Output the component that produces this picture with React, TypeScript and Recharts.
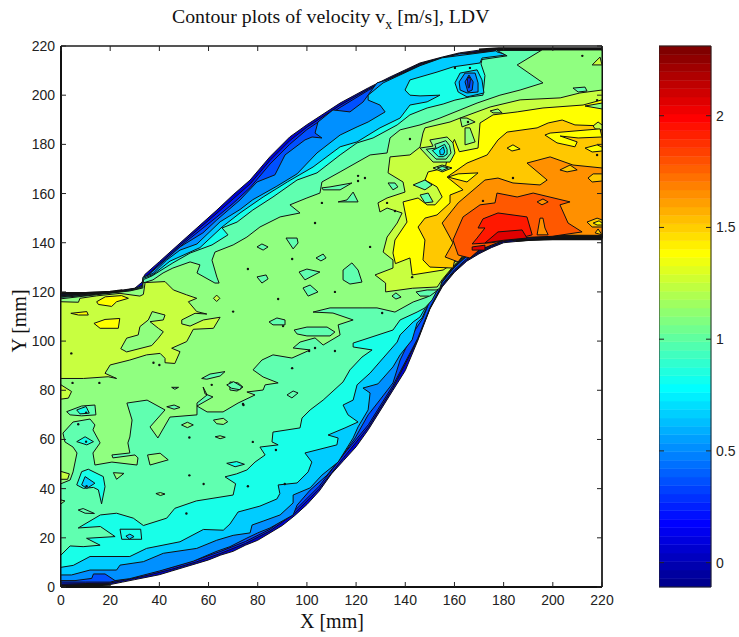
import React from 'react';
import { ScatterChart, Scatter, XAxis, YAxis, ReferenceLine, ReferenceArea } from 'recharts';

type Pt = [number, number];

const xTicks = [0, 20, 40, 60, 80, 100, 120, 140, 160, 180, 200, 220];
const yTicks = [0, 20, 40, 60, 80, 100, 120, 140, 160, 180, 200, 220];
const barTicks = [0, 0.5, 1, 1.5, 2];

// jet colormap steps of the colorbar
const barColors = [
  '#00008f', '#00009f', '#0000af', '#0000bf', '#0000cf', '#0000df', '#0000ef', '#0000ff',
  '#0010ff', '#0020ff', '#0030ff', '#0040ff', '#0050ff', '#0060ff', '#0070ff', '#0080ff',
  '#008fff', '#009fff', '#00afff', '#00bfff', '#00cfff', '#00dfff', '#00efff', '#00ffff',
  '#10ffef', '#20ffdf', '#30ffcf', '#40ffbf', '#50ffaf', '#60ff9f', '#70ff8f', '#80ff80',
  '#8fff70', '#9fff60', '#afff50', '#bfff40', '#cfff30', '#dfff20', '#efff10', '#ffff00',
  '#ffef00', '#ffdf00', '#ffcf00', '#ffbf00', '#ffaf00', '#ff9f00', '#ff8f00', '#ff8000',
  '#ff7000', '#ff6000', '#ff5000', '#ff4000', '#ff3000', '#ff2000', '#ff1000', '#ff0000',
  '#ef0000', '#df0000', '#cf0000', '#bf0000', '#af0000', '#9f0000', '#8f0000', '#800000',
];
const barEdges = [
  -0.109, -0.071, -0.033, 0.005, 0.043, 0.08, 0.118, 0.156, 0.194, 0.232, 0.269, 0.307, 0.345,
  0.383, 0.421, 0.458, 0.496, 0.534, 0.572, 0.61, 0.647, 0.685, 0.723, 0.761, 0.799, 0.836,
  0.874, 0.912, 0.95, 0.988, 1.025, 1.063, 1.101, 1.139, 1.177, 1.214, 1.252, 1.29, 1.328,
  1.366, 1.403, 1.441, 1.479, 1.517, 1.555, 1.592, 1.63, 1.668, 1.706, 1.744, 1.781, 1.819,
  1.857, 1.895, 1.933, 1.97, 2.008, 2.046, 2.084, 2.122, 2.159, 2.197, 2.235, 2.273, 2.312,
];
const barRange = [
  { x: 0, y: -0.109 },
  { x: 1, y: 2.312 },
];

// duct outline, mm
const wall: Pt[] = [
  [0, 0.5], [10, 0.7], [20, 1], [25, 2], [30, 3], [35, 4], [40, 5], [45, 6.5], [50, 8], [55, 9.5], [60, 11], [65, 13], [70, 14.5],
  [75, 17], [80, 19], [85, 22], [90, 25], [95, 29], [100, 33.5], [105, 39], [110, 46], [115, 51.5], [120, 57], [125, 64], [130, 72],
  [135, 80], [140, 88], [145, 100], [150, 113], [155, 122], [160, 128], [165, 132.5], [170, 135.5], [175, 138], [180, 140], [185, 140.5],
  [190, 141], [200, 141.5], [220, 141.5], [220, 219], [178, 219], [170, 218.3], [162, 217.2], [155, 215.5], [146, 213.1], [133.8, 207.4],
  [125, 203], [113.5, 196.8], [100, 188], [93, 183], [85, 175], [76.9, 165.5], [70, 159.5], [63.4, 153.3], [50, 141.3], [40, 132.3],
  [34, 127], [33, 124], [30, 121.5], [20, 120], [0, 119.5],
];
const wallInletTop: Pt[] = [[0, 119.5], [10, 119.5], [20, 120], [25, 120.6]];
const wallOutletTop: Pt[] = [[170, 218.5], [178, 219], [220, 219]];
const wallOutletBottom: Pt[] = [[185, 140.8], [190, 141.2], [200, 141.5], [220, 141.5]];
const wallInletBottom: Pt[] = [[0, 0.5], [10, 0.7], [20, 1]];

// main contour levels, lowest first
const level0: Pt[] = [
  [0, 1.2], [20, 1.6], [25, 2.6], [35, 4.7], [45, 7.2], [55, 10.2], [65, 13.7], [75, 17.7], [85, 22.8], [95, 30], [105, 40], [115, 52.7],
  [125, 65], [135, 81], [145, 100.5], [150, 113.2], [155, 122.5], [160, 128.5], [165, 133], [170, 136], [175, 138.5], [180, 140.5], [190, 141.5],
  [220, 142], [220, 218.6], [178, 218.6], [162, 216.9], [155, 215.2], [146, 212.8], [134, 207], [125, 202.5], [113.5, 195.9], [100, 187],
  [93, 181.5], [85, 173.5], [77, 164], [70, 157.8], [63.4, 152], [50, 140.5], [40, 131.4], [34, 125.7], [33, 122], [20, 119.6], [0, 119.1],
];
const level1: Pt[] = [
  [0, 2], [10, 2], [20, 2], [25, 3.2], [35, 5.5], [45, 8], [55, 11], [65, 14.5], [75, 18.5], [85, 23.5], [95, 31], [105, 41], [115, 54],
  [125, 66], [135, 82], [145, 101], [150, 113.5], [155, 123], [160, 129], [165, 133.5], [170, 136.5], [175, 139], [180, 141], [190, 142],
  [220, 142.1], [220, 218.3], [180, 218.3], [170, 217.6], [162, 216.6], [155, 215], [146, 212.5], [134, 206.5], [125, 202], [113.5, 195],
  [100, 186], [93, 180], [85, 172], [77, 162.5], [70, 156], [63.4, 150.5], [50, 139.8], [40, 130.5], [34, 124.5], [33, 120.5], [20, 119.2], [0, 118.8],
];
const level2: Pt[] = [
  [0, 2.6], [5.7, 2.6], [12.5, 3.5], [13.2, 5.3], [17.9, 5.3], [22, 2.6], [28, 3.4], [40, 6.5], [53.8, 10.5], [63, 14.4], [68.7, 16.4],
  [75.6, 19.9], [80, 22], [85, 24], [94.4, 29.3], [96, 33.3], [101.3, 39.4], [108.2, 45.5], [114.7, 53.7], [119.6, 60.6], [124.9, 70],
  [129, 75.2], [135, 83], [137.9, 92.3], [143.2, 103.3], [147.2, 109.4], [150, 116.5], [155, 124], [160, 130], [165, 134.5], [170, 137.5],
  [175, 140], [180, 142], [190, 142.3], [220, 142.2], [220, 218], [178, 218], [170, 217.2], [162, 216.8], [155, 215], [146, 212], [132.6, 206.2],
  [128.5, 205], [122.8, 197.2], [117.5, 193.2], [110.6, 194], [104.5, 189.1], [103.3, 184.6], [106.1, 182.6], [102.1, 183], [99.2, 181.8],
  [91.1, 175.7], [87, 167.6], [79.7, 164.7], [72.8, 157.4], [63.4, 149.3], [57.7, 144], [48.4, 138.3], [41.5, 132.2], [34.2, 125.7], [33.3, 122],
  [28, 120.8], [15, 118.8], [0, 118.5],
];
const level3: Pt[] = [
  [0, 4.9], [4.3, 4.9], [11.8, 6.9], [22.6, 6.9], [24, 8.9], [33.5, 10.3], [41.6, 13.7], [55.2, 15.7], [63.3, 19], [70, 21], [76.9, 22],
  [77.7, 25.2], [82.2, 26.8], [89.1, 29.3], [94.4, 34.2], [94.4, 37.4], [101.3, 40.3], [106.1, 45.5], [112.7, 50.8], [118.8, 60.6], [120.8, 65.1],
  [124.9, 72], [125.7, 78.9], [122.8, 80.9], [128.9, 82.6], [135, 89.5], [137.9, 94.4], [142.8, 100.5], [144.8, 107.4], [146.8, 109.4],
  [150, 116.5], [155, 124.2], [160, 130.2], [165, 134.8], [170, 137.7], [175, 140.2], [180, 142.1], [190, 142.4], [220, 142.3], [220, 218.2],
  [178, 218.2], [155, 215.2], [146, 212], [131, 205], [124.9, 200], [124.9, 198], [129.7, 196], [131.8, 193.2], [124.9, 189.1], [120.4, 187.1],
  [113.5, 183.8], [104.1, 176.5], [96, 168], [87.8, 163], [78, 157.5], [72.8, 153.5], [64.7, 148.5], [55.3, 139.5], [48.4, 137], [43, 133],
  [37.4, 127.5], [33.3, 126], [33.3, 122.8], [28, 120.4], [0, 118.2],
];
const level4: Pt[] = [
  [0, 8], [5, 8.8], [11.8, 12.4], [28, 12.4], [34.8, 15.7], [48.4, 18.4], [57.9, 23.4], [66, 23.1], [68.7, 25.6], [72, 30.5], [80.9, 32.9],
  [87.8, 35.8], [89, 38], [88.3, 41.5], [96, 42.3], [100.5, 46.8], [102, 50.8], [99.2, 54.5], [112.2, 57.8], [112.7, 60.6], [108.6, 61.8],
  [115.5, 64.7], [120.8, 67.1], [116.7, 70], [114.7, 74], [118.8, 76], [120.4, 82.2], [125.7, 87], [131, 93.1], [136.7, 99.6], [137.9, 102.5],
  [143.2, 107.8], [146, 109.8], [150, 116.6], [155, 124.3], [160, 130.3], [165, 135], [170, 137.8], [175, 140.3], [180, 142.2], [190, 142.5],
  [220, 142.4], [220, 218.4], [176.5, 218.4], [177.3, 217.6], [181.4, 216.4], [171.2, 215.1], [170.4, 213.1], [159.4, 211.5], [152.9, 209.4],
  [141.9, 206.2], [139.9, 202.1], [141.9, 200], [146, 199.7], [154.1, 200], [148.9, 197.3], [141.9, 196], [137.9, 190.7], [129.7, 186.7],
  [120.4, 181], [113.5, 179], [102.5, 170.8], [92, 164.7], [82.2, 158.6], [72.8, 152.1], [65.5, 146.4], [56.5, 138], [44.3, 132.5], [37.4, 127],
  [33.3, 125.5], [33.3, 122.5], [28, 120], [0, 118],
];
const level5: Pt[] = [
  [0, 13], [3.7, 16.7], [9, 16.4], [15.9, 17], [10.4, 19.8], [22, 20.5], [16, 24.6], [7, 24], [16, 29.3], [22.6, 30], [29.4, 28], [33.5, 25],
  [43, 28], [46.3, 32], [55, 35], [70, 37.4], [71, 42], [66.7, 44.8], [71.4, 46], [75.6, 47.6], [78.9, 50.8], [83, 53.7], [80.9, 56.9], [88.3, 57.8],
  [85.8, 59], [86.2, 63], [97.2, 64.7], [98, 68.7], [101.3, 72], [106.6, 76], [114.7, 83.4], [117.5, 88.3], [122.4, 93.5], [126.5, 96.4],
  [118.8, 97.6], [118.8, 99.2], [122.8, 100.5], [135, 104.5], [137.9, 108.6], [144.8, 111.8], [148, 113.5], [150.9, 116.7], [155, 124.5],
  [160, 130.5], [165, 135], [170, 138], [175, 140.5], [180, 142.3], [190, 142.6], [220, 142.5], [220, 218.2], [177.3, 218.2], [181.4, 216],
  [171.2, 214.5], [170.8, 212.7], [172.4, 208], [171.6, 200], [166.3, 199.3], [160.2, 198], [155.4, 196.4], [148.9, 194.8], [141.9, 192],
  [136.7, 187.9], [126.9, 182.6], [120.4, 180.6], [113.5, 175.7], [104.1, 168.4], [96, 165.5], [86.2, 158.6], [78, 153.3], [71.6, 148.4],
  [65.5, 146], [67.9, 143.2], [61.4, 139.1], [52.5, 135.8], [45.5, 131.8], [37, 126.5], [33.5, 125], [33.5, 122.2], [28, 119.8], [0, 117.8],
];
const level6: Pt[] = [
  [0, 42], [3.7, 43.5], [4.9, 46.8], [6.5, 54.5], [4.9, 56.9], [1.6, 59], [0.8, 62.6], [4.9, 67.1], [11.8, 68.3], [13.8, 65.9], [13, 63.9],
  [15.9, 58.6], [13, 54.5], [13.8, 49.6], [20.7, 50.8], [30.9, 49.6], [31.3, 52.5], [30.1, 53.7], [21.1, 52.5], [20.7, 53.7], [28, 54.5],
  [27.2, 58.6], [28, 61], [28.9, 67.9], [26.8, 74.8], [35, 76], [42.3, 72], [36.2, 65.1], [39.4, 60.6], [44.3, 69.1], [55.3, 70], [55.3, 74.8],
  [59.4, 78.1], [57.8, 81.3], [58.6, 78.5], [61.8, 77.3], [55.3, 73.6], [59.4, 71.2], [65.9, 71.2], [72, 74.8], [78.9, 78.1], [75.6, 79.3],
  [82.2, 80.1], [83, 82.2], [88.3, 83], [82.2, 85.4], [78.1, 88.3], [81.7, 92.3], [86.2, 94.4], [93.9, 93.1], [101.3, 96.4], [94.4, 97.2],
  [97.2, 99.6], [103.3, 101.3], [106.6, 98.4], [113.5, 102.5], [112.7, 106.6], [118.8, 108.6], [110.6, 111.4], [102.5, 111.8], [109.4, 113.5],
  [122.8, 113.5], [128.5, 113.5], [135.8, 111.8], [143.2, 115.9], [148.9, 117.9], [154.1, 121.6], [155, 124.6], [160, 130.7], [165, 135.3],
  [170, 138.2], [175, 140.7], [180, 142.5], [190, 142.7], [220, 142.6], [220, 218.4], [195.6, 218.4], [185.5, 212.3], [196, 205], [186.7, 202.1],
  [178.5, 200], [169.2, 196.8], [162.3, 194], [154.1, 190.7], [146, 187.9], [137.9, 185.9], [133.8, 182.6], [132.6, 176.5], [125.7, 175.7],
  [113.5, 168.8], [106.1, 164.7], [105.3, 160.2], [100, 158.2], [93.1, 155.4], [97.2, 152.1], [89.1, 150.5], [80.9, 146.4], [75.6, 142.3],
  [70, 139.1], [62.6, 136.2], [61.4, 132.9], [63.4, 126], [64.3, 123.6], [62.6, 123.6], [55.3, 127.7], [56.5, 131], [52.5, 132.2], [45.5, 129.7],
  [41.5, 127.7], [37.4, 124.9], [33.3, 123.6], [33.3, 121.6], [28, 120.4], [0, 117.2],
];
const level7Left: Pt[] = [
  [0, 116], [7.1, 115.8], [7.7, 117.4], [14.5, 118.4], [24, 119.4], [32.1, 118.3], [33.5, 119], [34.2, 123.8], [42.3, 124.2], [45.7, 120.8],
  [51.1, 118.8], [55.2, 117.4], [51.8, 116], [55.2, 112], [59.3, 111], [54.5, 111.3], [49.1, 108.6], [49.1, 107], [52.5, 106.1], [57.9, 108.6],
  [64.7, 109.7], [62, 105.2], [53.8, 104.8], [51.1, 99.8], [45, 97.1], [48.4, 95.7], [46.3, 90.9], [42.3, 91.2], [42.3, 93], [40.3, 95], [34.8, 94.4],
  [28, 92.3], [20, 90.3], [17.9, 86.9], [22.6, 84.8], [19.2, 85.5], [9.1, 84.8], [0, 84.8],
];
const level7: Pt[] = [
  [153, 122], [143, 121.5], [132, 120], [132, 123.6], [127.7, 126.9], [135, 129.7], [135, 133], [131, 136.2], [132.6, 142.3], [136.7, 148],
  [138.7, 152.1], [132.6, 154.1], [129.7, 152.5], [128.9, 156.2], [132.6, 158.2], [139.9, 160.6], [139.1, 164.7], [133, 168.4], [133.8, 174.9],
  [141.9, 175.7], [146, 178.9], [147.2, 184.6], [148, 186.7], [158.2, 189.1], [162.3, 190.7], [174.5, 195.2], [186.7, 198.1], [203, 198.9],
  [211, 200.9], [220, 202.1], [220, 142.7], [190, 142.8], [180, 142.6], [175, 141], [170, 138.5], [165, 135.5], [160, 131], [155, 125],
];
const level8: Pt[] = [
  [155.4, 128.9], [142.8, 126.9], [141.9, 133.8], [136, 131.5], [135, 135.8], [135.8, 141.1], [140.7, 148.4], [139.1, 156.6], [145.2, 158.2],
  [148.9, 155.4], [152.1, 155.4], [155, 158.6], [152.9, 162.7], [148, 165.5], [149.3, 168.8], [156.2, 170.4], [158, 178], [160, 182], [162, 177],
  [169.6, 178.5], [170.4, 188.7], [175.7, 192], [185.5, 193.2], [196, 194.8], [212.3, 196], [220, 198.1], [220, 142.8], [190, 142.9], [180, 142.7],
  [175, 141.5], [170, 139], [165, 136], [160, 132],
];
const level9: Pt[] = [
  [159.4, 129.7], [150, 130.1], [147.2, 133], [148, 141.1], [145.2, 146.4], [148, 150], [152.9, 151.3], [158.2, 156.2], [158.2, 159.4], [163.5, 161.5],
  [157, 166.7], [165.1, 172.4], [173.3, 175.7], [177.7, 181.8], [181.4, 185], [193.6, 186.7], [198.1, 188.7], [203.8, 189.9], [209, 187.9],
  [220, 187.5], [220, 142.9], [190, 143], [180, 142.8], [175, 142], [170, 139.5], [165, 136.5], [160, 132.5],
];
const level10: Pt[] = [
  [161.5, 132.2], [156.2, 134.2], [159.4, 139.9], [155, 148], [161.5, 156.2], [172.4, 165.5], [177.7, 166.3], [183.8, 164.3], [194.8, 163.5],
  [197.7, 165.5], [189.5, 172.4], [198.9, 174.9], [208.2, 171.6], [220, 170.4], [220, 143], [190, 143.1], [180, 142.9], [175, 142.2], [170, 140], [165, 137],
];
const level11: Pt[] = [
  [166.3, 133.8], [161.5, 135], [159.4, 141.1], [163.5, 150.5], [170.4, 155.4], [176.5, 156.2], [177.3, 160.2], [185.5, 158.6], [192, 160.2],
  [207, 156.6], [202.9, 155.4], [206.2, 148], [211.9, 144.4], [199.7, 142.6], [190, 142.2], [180, 141], [175, 139], [170, 137],
];
const level12: Pt[] = [
  [167.2, 139.5], [169.2, 141.9], [172.4, 146], [169.6, 146], [171.6, 149.7], [177.7, 152.1], [189.5, 150.5], [191.6, 143.2], [185, 141.5], [175, 140],
];
const level13: Pt[] = [[172.4, 139.9], [177.7, 144.4], [187.5, 145.2], [189.5, 141.9], [180, 141]];
const level13Small: Pt[] = [[167.2, 138.3], [172.4, 139], [172.4, 137], [167.2, 137]];

// closed islands, grouped by fill band
const aquaIslands: Pt[][] = [
  [[79.7, 138.3], [81.7, 139.5], [84.2, 138.3], [82.2, 137]],
  [[91.5, 141.9], [96, 141.9], [96.4, 139.9], [94.4, 137.5]],
  [[103.7, 133.8], [106.6, 135.4], [107.8, 133.8], [105.7, 132.6]],
  [[79.7, 126.1], [83.4, 126.9], [84.2, 125.3], [81.7, 123.6]],
  [[96.8, 128.1], [100, 129.3], [105.3, 128.1], [99.2, 124.9]],
  [[98.4, 121.6], [101.3, 122.8], [104.5, 120], [100.5, 118.3]],
  [[114.7, 128.9], [118.3, 131.8], [120.8, 128.9], [122.4, 124], [117.5, 123.2], [114.7, 124.9]],
  [[84.6, 107.8], [87.8, 109.4], [91.1, 108.6], [91.1, 106.6], [86.2, 106.6]],
  [[94.8, 104.5], [100, 105.7], [108.2, 105.7], [111.4, 103.7], [109.4, 102.1], [100, 102.1], [96, 102.9]],
  [[134.6, 118.3], [136.2, 119.6], [138.3, 117.9], [136.2, 117.1]],
  [[144.4, 120], [148.9, 120.8], [153.3, 120.8], [150, 118.3], [146, 118.3]],
  [[91.9, 78.1], [94.4, 79.7], [96.4, 78.9], [93.9, 76.9]],
  [[68.7, 83.4], [72, 83], [74, 81.3], [71.6, 79.7], [68.7, 80.1]],
  [[57.2, 84.8], [60.6, 86.6], [66.7, 87.6], [64.7, 85.8], [59.3, 84.5]],
  [[67.4, 82.2], [70.2, 83.5], [73.5, 81.5], [72.8, 80.2], [69.4, 80.8]],
  [[43, 73.3], [46, 74], [48.4, 73], [46, 72.3]],
  [[2.3, 71.3], [8.4, 73.6], [13.8, 74], [14.2, 70], [8.4, 69.6], [3.7, 70]],
  [[45, 81.2], [47.8, 81.2], [46.3, 80.4]],
  [[116.3, 157.4], [118.8, 160.6], [120.8, 156.6], [112.7, 156.6]],
  [[106.1, 162.3], [109.4, 162.7], [118.3, 164.3], [113.5, 161.5], [106.6, 161.5]],
  [[133, 164.3], [135.8, 164.3], [137, 162.7], [135, 161.5]],
  [[143.2, 163.5], [148, 165.5], [150.9, 163.5], [148, 161.5]],
  [[146, 159.4], [149.3, 160.2], [151.3, 156.6], [148, 156.2]],
  [[208.2, 202.9], [213.1, 203.3], [213.9, 201.7], [210.3, 201.3]],
  [[7, 31.3], [9, 31.9], [13.6, 29.9], [9.8, 30]],
  [[152, 180], [156.5, 181.5], [158, 179.5], [158.6, 176.5], [156.6, 174], [152.5, 174], [148.5, 178], [152.5, 178.5]],
  [[153, 170.4], [155, 171], [157.5, 170.4], [155, 169.4]],
];
const greenIslands: Pt[][] = [
  [[37.1, 112], [42.3, 110.6], [41.6, 108.6], [36.2, 107.9], [39.6, 105.2], [41.6, 103.8], [39.6, 101.2], [36.9, 98.2], [26.7, 95.6], [24.3, 96.9],
    [26.7, 101.2], [31.4, 102.5], [32.1, 105.9], [35.5, 108.6]],
  [[174.5, 193.6], [177.7, 194.4], [179.4, 192.8], [175.7, 192.8]],
  [[164.3, 186.7], [166.3, 186.7], [168.4, 181], [164.3, 179.8]],
  [[162.3, 190.7], [165.1, 190.7], [168.4, 189.1], [163.1, 187.1]],
  [[213.1, 195.6], [220, 196.8], [220, 194.4]],
  [[150, 181.8], [157, 183], [159.4, 180.6], [160.2, 176.5], [158.2, 172.8], [151.3, 172.8], [146, 178.5], [151.3, 179.3]],
  [[151.3, 170.4], [155, 171.6], [159, 170.4], [155, 168.8]],
  [[49, 65.9], [51.4, 67], [53.8, 65.9], [51.4, 64.8]],
  [[62.7, 61.1], [64.7, 61.5], [66.8, 60.9], [64.7, 60.3]],
  [[62, 67.9], [66, 68.6], [67.8, 67.2], [66, 66.1], [63.3, 66.4]],
  [[21.3, 46.5], [25.6, 46.2], [22.6, 43.8]],
  [[35.2, 53.7], [40.3, 54.4], [43.6, 51.7], [36.2, 49.6]],
  [[0, 35.4], [1.6, 35], [0, 33.8]],
  [[38.6, 38], [40.4, 38.4], [42.3, 37.8], [40.4, 37.2]],
];
const limeIslands: Pt[][] = [
  [[0, 82.2], [4.3, 79.5], [3, 76.8], [0, 76.4]],
  [[0, 47], [3.4, 46], [2.7, 43.8], [0, 43.8]],
  [[62, 117.4], [63.3, 118.7], [64.6, 117.4], [63.3, 116.1]],
  [[216, 212.3], [219.2, 215.5], [220, 212.3]],
  [[216.4, 187.5], [218.4, 189.1], [220, 187.9], [220, 185.9], [217.2, 186.3]],
];
const yellowIslands: Pt[][] = [
  [[14.5, 116], [18, 118], [24.6, 118.5], [27.4, 117.4], [22.6, 116], [20.6, 114.1], [15.2, 114.9]],
  [[13.4, 107.2], [17.9, 108.8], [23.9, 109.2], [23.3, 105.2], [15.9, 105.2]],
  [[4, 111.3], [10.5, 112], [11.1, 110.6], [7.1, 110.6]],
  [[196.8, 183.8], [198.9, 184.6], [219.2, 186.3], [220, 183], [210.3, 182.6], [203, 183.4], [209.9, 181], [209, 179], [201.7, 180.6]],
  [[181.4, 178.5], [183.8, 179.8], [186.7, 178.1], [183.4, 177.3]],
  [[213.1, 178.5], [218, 179.8], [220, 178.9], [220, 177.3], [216, 176.9]],
  [[157.4, 166.7], [161.5, 168], [169.6, 168.4], [165.1, 164.7]],
];
const amberIslands: Pt[][] = [
  [[202.9, 169.6], [207, 171.6], [209.9, 169.6], [205.8, 168.8]],
  [[214.3, 166.3], [216.4, 168], [220, 168], [220, 165.1], [216, 164.7]],
  [[213.9, 148.4], [218, 150], [220, 149.3], [220, 146.4], [216, 146.4]],
  [[217.2, 144], [218.4, 145.6], [220, 143.2]],
];
const amberInner: Pt[][] = [[[216.4, 148], [218.8, 148.9], [220, 148], [220, 147.2], [218, 147.2]]];
const orangeIslands: Pt[][] = [
  [[193.6, 143.2], [194.8, 150], [196, 150], [196.8, 146], [198.1, 143.2]],
  [[193.6, 156.6], [196, 157.8], [198.1, 156.6], [195.6, 155.4]],
];
const cyanIslands: Pt[][] = [
  [[153, 178.5], [156, 180], [157, 178], [157, 176], [155.5, 175], [153.5, 175], [151, 177.5]],
  [[6.4, 41.5], [8.4, 46.9], [11.1, 47.9], [17.2, 44.9], [17.9, 40.8], [16.5, 33.8], [15.2, 39.5], [13.2, 40.5], [9.1, 40.1]],
  [[6.4, 59.1], [9.8, 61.1], [13.2, 59.1], [10.5, 57.8]],
  [[6.4, 72], [10.2, 73.4], [11.5, 70.7], [7.7, 70.4]],
  [[67.4, 50.3], [71.4, 51], [74.6, 49.9], [70.8, 48.9]],
  [[24, 23.5], [32.4, 23.5], [32.8, 19.4], [24.7, 19.4]],
];
const skyIslands: Pt[][] = [
  [[154, 177.5], [155.5, 179], [156, 177], [155.5, 175.8], [154.2, 175.8]],
  [[8.4, 41.5], [9.8, 44.9], [13.8, 42.2], [10.5, 40.1]],
  [[26.4, 20.7], [28, 21.5], [29.7, 20.5], [27.8, 19.5]],
  [[160.2, 205], [162.3, 209], [169.2, 210.3], [171.2, 206.2], [172, 200.9], [165.1, 199.3], [161.5, 201.3]],
];
const blueIsland: Pt[] = [[161.9, 205.4], [164.3, 209], [168.4, 209], [169.6, 205], [169.6, 201.3], [165.1, 200.9], [162.3, 202.1]];
const deepIsland: Pt[] = [[164.3, 205.4], [165.9, 208.2], [167.6, 205.4], [167.2, 202.1], [165.5, 201.3]];
const coreIsland: Pt[] = [[165.3, 206.5], [165.9, 207.5], [166.5, 206.5], [166, 203], [165.6, 203]];

// single sample contours too small to show as outlines
const specks: Pt[] = [
  [4.2, 95], [70, 112], [37.6, 91.2], [40, 90.3], [4.7, 83], [15.6, 83], [61.3, 82.2], [74.2, 74], [7, 66.2], [10.2, 70.9], [10.2, 59.1],
  [52.2, 45.4], [58, 41.9], [51, 29.9], [52.2, 60.8], [10.4, 41], [76, 41], [74, 74.4], [91, 41.9], [78, 59], [87.4, 55.7], [76, 129.3],
  [88.3, 117.1], [94, 89], [111.4, 120], [111.4, 96], [103.3, 97.2], [100.9, 96], [90.3, 106.1], [130.6, 111.4], [142.8, 126], [94, 133.4],
  [106.1, 156.2], [103.3, 148], [141.9, 182.2], [123.6, 166.3], [120.8, 167.2], [120.8, 165.1], [132.6, 156.2], [160.2, 211.1], [166.3, 211.1],
  [212, 216], [165.5, 189.1], [218, 198], [218, 175.7], [183.8, 166.3], [171.6, 157], [135.8, 152.9], [125.7, 138.3],
];

const layers: { pts: Pt[]; fill: string }[] = [
  { pts: wall, fill: '#0000d0' },
  { pts: level0, fill: '#0020ff' },
  { pts: level1, fill: '#0050ff' },
  { pts: level2, fill: '#0090ff' },
  { pts: level3, fill: '#00ccff' },
  { pts: level4, fill: '#18ffe8' },
  { pts: level5, fill: '#60ffb0' },
  { pts: level6, fill: '#90ff80' },
  { pts: level7Left, fill: '#c8ff40' },
  { pts: level7, fill: '#c8ff40' },
  { pts: level8, fill: '#ffff00' },
  { pts: level9, fill: '#ffc800' },
  { pts: level10, fill: '#ff9000' },
  { pts: level11, fill: '#ff5800' },
  { pts: level12, fill: '#ff1800' },
  { pts: level13, fill: '#e00000' },
  { pts: level13Small, fill: '#e00000' },
  ...greenIslands.map((pts) => ({ pts, fill: '#90ff80' })),
  ...limeIslands.map((pts) => ({ pts, fill: '#c8ff40' })),
  ...aquaIslands.map((pts) => ({ pts, fill: '#60ffb0' })),
  ...yellowIslands.map((pts) => ({ pts, fill: '#ffff00' })),
  ...amberIslands.map((pts) => ({ pts, fill: '#ffc800' })),
  ...amberInner.map((pts) => ({ pts, fill: '#ffff00' })),
  ...orangeIslands.map((pts) => ({ pts, fill: '#ff9000' })),
  ...cyanIslands.map((pts) => ({ pts, fill: '#18ffe8' })),
  ...skyIslands.map((pts) => ({ pts, fill: '#00ccff' })),
  { pts: blueIsland, fill: '#0090ff' },
  { pts: deepIsland, fill: '#0050ff' },
  { pts: coreIsland, fill: '#0030ff' },
];

const toRows = (pts: Pt[]) => pts.map(([x, y]) => ({ x, y }));
const closed = (pts: Pt[]) => toRows([...pts, pts[0]]);

const W = 739;
const H = 637;
const LEFT = 61;
const RIGHT = 602;
const TOP = 46;
const BOTTOM = 587;
const TICK = 5;
const FONT = '"Liberation Sans", Arial, sans-serif';
const SERIF = '"Liberation Serif", "Times New Roman", serif';

const XTick = ({ x, payload }: any) => (
  <g>
    <line x1={x} x2={x} y1={BOTTOM} y2={BOTTOM - TICK} stroke="#222" />
    <line x1={x} x2={x} y1={TOP} y2={TOP + TICK} stroke="#222" />
    <text x={x} y={BOTTOM + 18} textAnchor="middle" fontFamily={FONT} fontSize={14} fill="#222">
      {payload.value}
    </text>
  </g>
);

const YTick = ({ y, payload }: any) => (
  <g>
    <line x1={LEFT} x2={LEFT + TICK} y1={y} y2={y} stroke="#222" />
    <line x1={RIGHT} x2={RIGHT - TICK} y1={y} y2={y} stroke="#222" />
    <text x={LEFT - 6} y={y + 5} textAnchor="end" fontFamily={FONT} fontSize={14} fill="#222">
      {payload.value}
    </text>
  </g>
);

const BarTick = ({ x, y, payload }: any) => (
  <g>
    <line x1={x - 52} x2={x - 47} y1={y} y2={y} stroke="#222" />
    <line x1={x} x2={x - 5} y1={y} y2={y} stroke="#222" />
    <text x={x + 5} y={y + 5} textAnchor="start" fontFamily={FONT} fontSize={14} fill="#222">
      {payload.value}
    </text>
  </g>
);

const labelStyle: React.CSSProperties = {
  position: 'absolute',
  fontFamily: SERIF,
  color: '#111',
  whiteSpace: 'nowrap',
  lineHeight: 1,
};

const wallEdge = (pts: Pt[], key: string) => (
  <Scatter
    key={key}
    data={toRows(pts)}
    isAnimationActive={false}
    shape={() => null}
    line={{ fill: 'none', stroke: '#111', strokeWidth: 2.5 }}
    lineJointType="linear"
  />
);

export default function App() {
  return (
    <div style={{ position: 'absolute', left: 0, top: 0, width: W, height: H, background: '#fff', overflow: 'hidden' }}>
      <div style={{ position: 'absolute', left: 0, top: 0 }}>
        <ScatterChart width={W} height={H} margin={{ top: TOP, right: W - RIGHT, bottom: 0, left: 0 }}>
          <XAxis
            type="number"
            dataKey="x"
            domain={[0, 220]}
            ticks={xTicks}
            interval={0}
            height={H - BOTTOM}
            tickLine={false}
            tickSize={0}
            tickMargin={0}
            tick={<XTick />}
            axisLine={{ stroke: '#111', strokeWidth: 2 }}
          />
          <YAxis
            type="number"
            dataKey="y"
            domain={[0, 220]}
            ticks={yTicks}
            interval={0}
            width={LEFT}
            tickLine={false}
            tickSize={0}
            tickMargin={0}
            tick={<YTick />}
            axisLine={{ stroke: '#111', strokeWidth: 2 }}
          />
          {layers.map((layer, i) => (
            <Scatter
              key={i}
              data={closed(layer.pts)}
              isAnimationActive={false}
              shape={() => null}
              line={{ fill: layer.fill, stroke: '#111', strokeWidth: 1 }}
              lineJointType="linear"
            />
          ))}
          {wallEdge(wallInletTop, 'inlet-top')}
          {wallEdge(wallOutletTop, 'outlet-top')}
          {wallEdge(wallOutletBottom, 'outlet-bottom')}
          {wallEdge(wallInletBottom, 'inlet-bottom')}
          <Scatter
            data={toRows(specks)}
            isAnimationActive={false}
            shape={(p: any) => <circle cx={p.cx} cy={p.cy} r={1.2} fill="#111" />}
          />
          <ReferenceLine x={220} stroke="#333" strokeWidth={2} />
          <ReferenceLine y={220} stroke="#555" strokeWidth={2} />
        </ScatterChart>
      </div>
      <div style={{ position: 'absolute', left: 659, top: 0 }}>
        <ScatterChart width={W - 659} height={H} margin={{ top: TOP, right: 0, bottom: H - BOTTOM, left: 0 }}>
          <XAxis type="number" dataKey="x" domain={[0, 1]} hide />
          <YAxis
            type="number"
            dataKey="y"
            orientation="right"
            domain={[-0.109, 2.312]}
            ticks={barTicks}
            interval={0}
            width={W - 659 - 52}
            tickLine={false}
            tickSize={0}
            tickMargin={0}
            tick={<BarTick />}
            axisLine={{ stroke: '#222' }}
          />
          <Scatter data={barRange} isAnimationActive={false} shape={() => null} />
          {barColors.map((c, i) => (
            <ReferenceArea key={c} x1={0} x2={1} y1={barEdges[i]} y2={barEdges[i + 1]} fill={c} fillOpacity={1} stroke={c} strokeWidth={0.5} ifOverflow="visible" />
          ))}
          <ReferenceLine x={0} stroke="#222" />
          <ReferenceLine y={2.312} stroke="#222" />
          <ReferenceLine y={-0.109} stroke="#222" />
        </ScatterChart>
      </div>
      <div style={{ ...labelStyle, left: 172, top: 7, fontSize: 19.8 }}>
        Contour plots of velocity v
        <span style={{ fontSize: 14, position: 'relative', top: 6 }}>x</span> [m/s], LDV
      </div>
      <div style={{ ...labelStyle, left: 300, top: 611, fontSize: 20 }}>X [mm]</div>
      <div
        style={{
          ...labelStyle,
          left: 19,
          top: 321,
          fontSize: 20,
          transform: 'translate(-50%, -50%) rotate(-90deg)',
        }}
      >
        Y [mm]
      </div>
    </div>
  );
}
